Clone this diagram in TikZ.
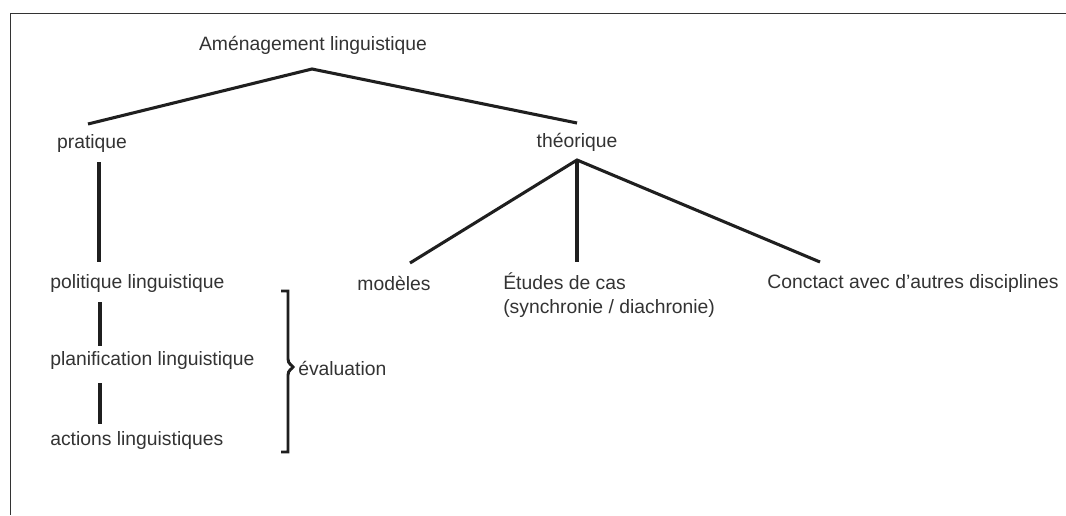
\documentclass[tikz,border=0pt]{standalone}
\usepackage{fontspec}
\setmainfont{Liberation Sans}
\begin{document}
\begin{tikzpicture}[x=0.75pt,y=-0.75pt,
  lbl/.style={inner sep=0pt, text=black!80, font=\fontsize{14.5}{18.5}\selectfont},
  conn/.style={line width=2.3pt, draw=black!88, line cap=butt},
  brk/.style={line width=2.2pt, draw=black!88, line join=miter}]
\useasboundingbox (0,0) rectangle (1066,515);
\fill[white] (0,0) rectangle (1066,515);
\draw[line width=1.3pt, black!80] (1066,13.5) -- (10.5,13.5) -- (10.5,515);

% nodes
\node[lbl] (amen) at (313,45) {Aménagement linguistique};
\node[lbl] (prat) at (92,143) {pratique};
\node[lbl] (theo) at (577,142) {théorique};
\node[lbl, anchor=west] (poli) at (50,283) {politique linguistique};
\node[lbl, anchor=west] (plan) at (50,360) {planification linguistique};
\node[lbl, anchor=west] (acti) at (50,440) {actions linguistiques};
\node[lbl, anchor=west] (eval) at (298,368) {évaluation};
\node[lbl] (mode) at (394,283) {modèles};
\node[lbl, anchor=north west, align=left] (etud) at (503,272) {Études de cas\\(synchronie / diachronie)};
\node[lbl] (cont) at (913,283) {Conctact avec d’autres disciplines};

% connector end points
\coordinate (apex) at (312,69);
\coordinate (pratE) at (88,124);
\coordinate (theoE) at (577,123);
\coordinate (theoA) at (577,160);
\coordinate (modeE) at (410,263);
\coordinate (etudE) at (577,262);
\coordinate (contE) at (820,262);
\coordinate (pratB) at (99,162);
\coordinate (poliT) at (99,262);
\coordinate (poliB) at (100,302);
\coordinate (planT) at (100,346);
\coordinate (planB) at (100,383);
\coordinate (actiT) at (100,424);

\draw[conn] (pratE) -- (apex) -- (theoE);
\draw[conn] (modeE) -- (theoA) -- (contE);
\draw[conn] (theoA) -- (etudE);
\draw[conn] (pratB) -- (poliT);
\draw[conn] (poliB) -- (planT);
\draw[conn] (planB) -- (actiT);

% bracket
\draw[brk] (281,291) -- (288,291) -- (288,359)
  .. controls (288,364) and (292,365) .. (293,367)
  .. controls (292,369) and (288,370) .. (288,375) -- (288,452) -- (281,452);
\end{tikzpicture}
\end{document}
